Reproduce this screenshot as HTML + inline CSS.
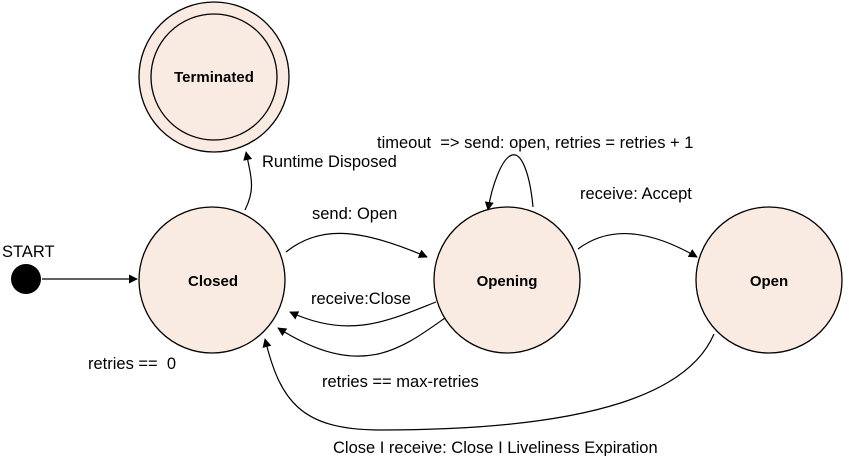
<!DOCTYPE html>
<html><head><style>body{margin:0;background:#fff}svg{display:block}text{font-family:"Liberation Sans",sans-serif;font-size:16.5px;fill:#000}.b{font-weight:bold;font-size:15px}</style></head>
<body>
<svg width="849" height="456" viewBox="0 0 849 456">
<defs><marker id="a" viewBox="0 0 10 10" refX="9" refY="5" markerWidth="9" markerHeight="9" orient="auto" markerUnits="userSpaceOnUse"><path d="M0,0 L10,5 L0,10 z" fill="#000"/></marker></defs>
<g fill="#f9ebe1" stroke="#000" stroke-width="1.3">
<circle cx="214" cy="77" r="75"/><circle cx="214" cy="77" r="63"/>
<circle cx="212" cy="280" r="73"/>
<circle cx="507" cy="280" r="73"/>
<circle cx="769" cy="280" r="73"/>
</g>
<circle cx="26" cy="279" r="15" fill="#000"/>
<g fill="none" stroke="#000" stroke-width="1.2" marker-end="url(#a)">
<path d="M42,279 L137,279"/>
<path d="M245,210 C255,190 252,180 246,152"/>
<path d="M286,252 C320,225 360,228 427,257"/>
<path d="M533,207 C530,175 522,152 512,155 C502,158 492,185 488,210"/>
<path d="M578,249 C610,225 650,230 697,257"/>
<path d="M436,302 C390,320 350,340 290,312"/>
<path d="M445,318 C400,350 360,380 278,328"/>
<path d="M714,334 C690,390 600,430 380,430 C300,430 280,400 265,339"/>
</g>
<text x="2" y="257">START</text>
<text class="b" x="214" y="82" text-anchor="middle">Terminated</text>
<text class="b" x="213" y="286" text-anchor="middle">Closed</text>
<text class="b" x="507" y="286" text-anchor="middle">Opening</text>
<text class="b" x="769" y="286" text-anchor="middle">Open</text>
<text x="262" y="167">Runtime Disposed</text>
<text x="377" y="148" xml:space="preserve">timeout  =&gt; send: open, retries = retries + 1</text>
<text x="312" y="219">send: Open</text>
<text x="580" y="199">receive: Accept</text>
<text x="311" y="304">receive:Close</text>
<text x="88" y="369" xml:space="preserve">retries ==  0</text>
<text x="322" y="387">retries == max-retries</text>
<text x="333" y="453">Close I receive: Close I Liveliness Expiration</text>
</svg>
</body></html>
